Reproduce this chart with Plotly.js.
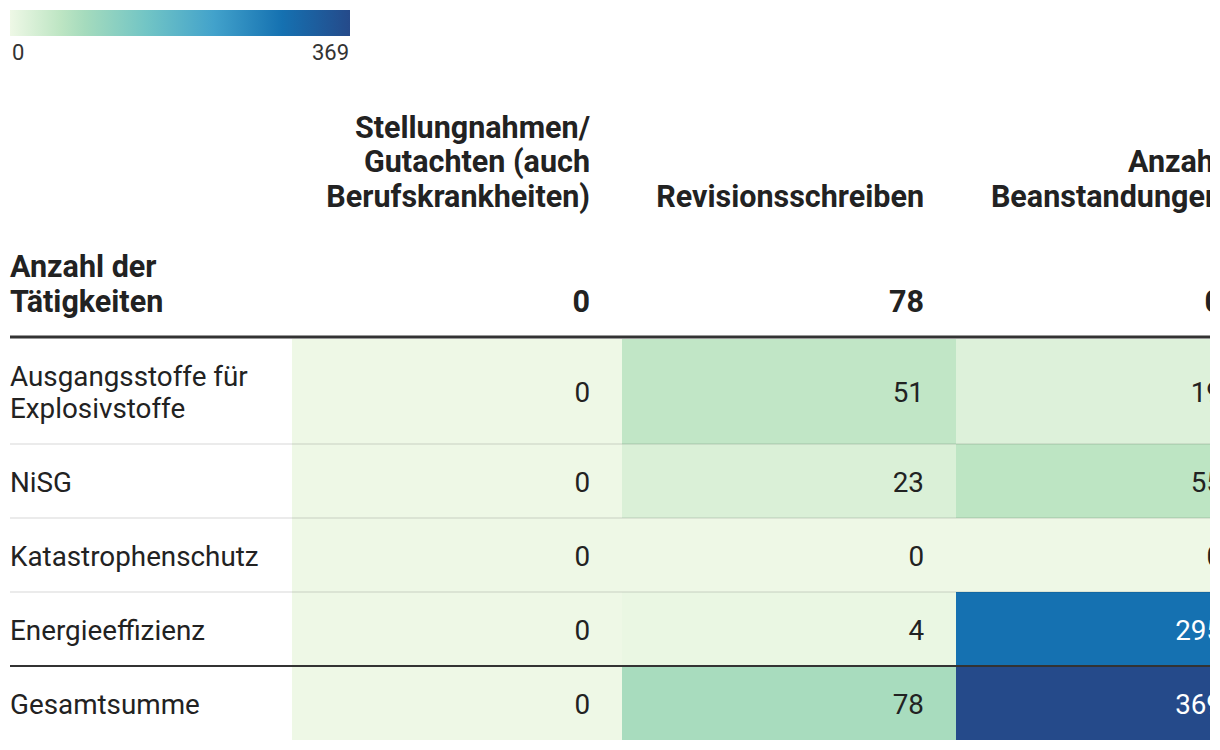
<!DOCTYPE html>
<html>
<head>
<meta charset="utf-8">
<script src="https://cdn.plot.ly/plotly-3.0.1.min.js"></script>
<style>html,body{margin:0;padding:0;background:#fff;}#chart{width:1220px;height:750px;}</style>
</head>
<body>
<div id="chart"></div>
<script>
// ---------- DATA ----------
const rowLabels = ['Ausgangsstoffe für<br>Explosivstoffe', 'NiSG', 'Katastrophenschutz', 'Energieeffizienz', 'Gesamtsumme'];
const columnTitles = ['Stellungnahmen/<br>Gutachten (auch<br>Berufskrankheiten)', 'Revisionsschreiben', 'Anzahl<br>Beanstandungen'];
const headerRowLabel = 'Anzahl der<br>Tätigkeiten';
const headerValues = [0, 78, 0];
const stellungnahmen = [0, 0, 0, 0, 0];
const revisionsschreiben = [51, 23, 0, 4, 78];
const beanstandungen = [19, 55, 0, 295, 369];

// ---------- LAYOUT CONSTANTS (pixel geometry) ----------
const W = 1220, H = 750, RIGHT_CLIP = 10;
const LEFT = 10;
const colEdges = [292, 622, 956, 1254];
const tableTop = 339;
const rowExtraPerLine = 31;
const baseRowH = 74;
const cellPad = 32;
const bodyLineGap = 32;
const headLineGap = 34.5;
const titleLastLineY = 197;
const headerNumY = 301;
const vOffBody = 4, vOffHead = 2;   // optical centring correction
const BODY = 27.8, HEAD = 30.5;

const columns = [stellungnahmen, revisionsschreiben, beanstandungen];
const nRows = rowLabels.length;
const z = [];
for (let r = 0; r < nRows; r++) z.push(columns.map(c => c[r]));
const zmax = Math.max(...z.flat());

const rowEdges = [tableTop];
rowLabels.forEach(l => {
  const lines = l.split('<br>').length;
  rowEdges.push(rowEdges[rowEdges.length - 1] + baseRowH + (lines - 1) * rowExtraPerLine);
});
const rowCenters = rowLabels.map((_, i) => (rowEdges[i] + rowEdges[i + 1]) / 2);
const colRights = columns.map((_, j) => colEdges[j + 1] - cellPad);

const colorscale = [
  [0, '#eef8e6'],
  [0.15, '#bde5c3'],
  [0.22, '#a5dbbd'],
  [0.4, '#72c5c5'],
  [0.6, '#42a2cb'],
  [0.8, '#1571b1'],
  [1, '#254a8a']
];

const font = 'Roboto, "Open Sans", sans-serif';
const traces = [];

traces.push({
  type: 'heatmap',
  x: colEdges, y: rowEdges, z: z,
  zmin: 0, zmax: zmax,
  colorscale: colorscale,
  hoverinfo: 'skip',
  showscale: true,
  colorbar: {
    orientation: 'h',
    x: LEFT / (W - RIGHT_CLIP), xanchor: 'left',
    y: 1 - 10 / H, yanchor: 'top',
    len: 340, lenmode: 'pixels',
    thickness: 26, thicknessmode: 'pixels',
    xpad: 0, ypad: 0,
    outlinewidth: 0,
    showticklabels: false, ticks: ''
  }
});

// split multi-line labels into one text point per line (tighter line spacing)
function lineTrace(texts, xs, refYs, gap, mode, pos, size, weight, vOff) {
  const x = [], y = [], t = [];
  texts.forEach((txt, i) => {
    const lines = txt.split('<br>');
    const n = lines.length;
    lines.forEach((ln, k) => {
      let yy;
      if (mode === 'bottom') yy = refYs[i] - (n - 1 - k) * gap;
      else yy = refYs[i] + (k - (n - 1) / 2) * gap;
      x.push(xs[i]); y.push(yy + vOff); t.push(ln);
    });
  });
  return {
    type: 'scatter', mode: 'text', x: x, y: y, text: t,
    textposition: pos, hoverinfo: 'skip',
    textfont: {family: font, size: size, color: '#222222', weight: weight}
  };
}

// cell values
const vx = [], vy = [], vt = [], vc = [];
for (let r = 0; r < nRows; r++) {
  for (let j = 0; j < columns.length; j++) {
    vx.push(colRights[j]); vy.push(rowCenters[r] + vOffBody);
    vt.push(String(z[r][j]));
    vc.push(z[r][j] / zmax > 0.6 ? '#ffffff' : '#222222');
  }
}
traces.push({
  type: 'scatter', mode: 'text', x: vx, y: vy, text: vt,
  textposition: 'middle left', hoverinfo: 'skip',
  textfont: {family: font, size: BODY, color: vc}
});

// row labels
traces.push(lineTrace(rowLabels, rowLabels.map(() => LEFT), rowCenters, bodyLineGap, 'center', 'middle right', BODY, 'normal', vOffBody));
// column titles
traces.push(lineTrace(columnTitles, colRights, columnTitles.map(() => titleLastLineY), headLineGap, 'bottom', 'middle left', HEAD, 'bold', vOffHead));
// header row label
traces.push(lineTrace([headerRowLabel], [LEFT], [headerNumY], headLineGap, 'bottom', 'middle right', HEAD, 'bold', vOffHead + 1));
// header row values
traces.push({
  type: 'scatter', mode: 'text',
  x: colRights, y: headerValues.map(() => headerNumY + vOffHead + 1), text: headerValues.map(String),
  textposition: 'middle left', hoverinfo: 'skip',
  textfont: {family: font, size: HEAD, color: '#222222', weight: 'bold'}
});

const shapes = [];
shapes.push({type: 'line', xref: 'x', yref: 'y', x0: LEFT, x1: W, y0: tableTop - 2, y1: tableTop - 2,
  line: {color: '#333333', width: 3}, layer: 'above'});
for (let i = 1; i < nRows - 1; i++) {
  shapes.push({type: 'line', xref: 'x', yref: 'y', x0: LEFT, x1: W, y0: rowEdges[i], y1: rowEdges[i],
    line: {color: 'rgba(0,0,0,0.08)', width: 2}, layer: 'above'});
}
shapes.push({type: 'line', xref: 'x', yref: 'y', x0: LEFT, x1: W, y0: rowEdges[nRows - 1], y1: rowEdges[nRows - 1],
  line: {color: '#333333', width: 2}, layer: 'above'});

const annotations = [
  {xref: 'paper', yref: 'paper', x: LEFT / (W - RIGHT_CLIP), y: 1 - 38 / H, xanchor: 'left', yanchor: 'top',
   text: '0', showarrow: false, font: {family: font, size: 22, color: '#333333'}},
  {xref: 'paper', yref: 'paper', x: 351 / (W - RIGHT_CLIP), y: 1 - 38 / H, xanchor: 'right', yanchor: 'top',
   text: String(zmax), showarrow: false, font: {family: font, size: 22, color: '#333333'}}
];

const layout = {
  width: W, height: H,
  margin: {l: 0, r: RIGHT_CLIP, t: 0, b: 0, pad: 0},
  paper_bgcolor: '#ffffff', plot_bgcolor: '#ffffff',
  showlegend: false,
  xaxis: {range: [0, W - RIGHT_CLIP], visible: false, fixedrange: true},
  yaxis: {range: [H, 0], visible: false, fixedrange: true},
  shapes: shapes,
  annotations: annotations,
  font: {family: font}
};

Plotly.newPlot('chart', traces, layout, {displayModeBar: false, staticPlot: true});
</script>
</body>
</html>
